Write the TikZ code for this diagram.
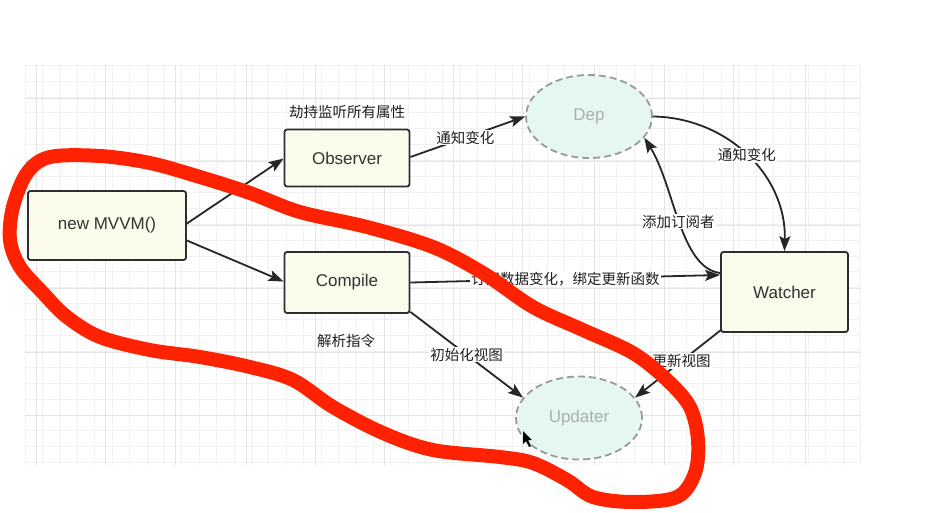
\documentclass[tikz,border=0pt]{standalone}
\usepackage{fontspec}
\setmainfont{Liberation Sans}
\newfontfamily\cjk{Noto Sans CJK SC}
\usetikzlibrary{arrows.meta,shapes.geometric}
\definecolor{boxfill}{HTML}{FBFBEB}
\definecolor{boxline}{HTML}{2E2E2E}
\definecolor{ellfill}{HTML}{E6F7F1}
\definecolor{ellline}{HTML}{9A9A9A}
\definecolor{elltext}{HTML}{A9B0AD}
\definecolor{gridmaj}{HTML}{E4E4E4}
\definecolor{gridmin}{HTML}{F1F1F1}
\definecolor{edgecol}{HTML}{262626}
\definecolor{scribble}{HTML}{FF2200}
\tikzset{
  boxnode/.style={draw=boxline, line width=1.8pt, fill=boxfill, rounded corners=2.5pt,
    text=black!80, font=\fontsize{17}{20}\selectfont, inner sep=0pt},
  ellnode/.style={ellipse, draw=ellline, dash pattern=on 7pt off 4pt, line width=1.8pt,
    fill=ellfill, text=elltext, font=\fontsize{17}{20}\selectfont, inner sep=0pt,
    minimum width=126pt, minimum height=83pt},
  edge/.style={draw=edgecol, line width=1.8pt, -{Stealth[length=15pt,width=11pt,inset=3pt]}},
  lbl/.style={font=\cjk\fontsize{14.5}{17}\selectfont, text=black!88, inner sep=1pt},
  elbl/.style={lbl, fill=white}
}
\begin{document}
\begin{tikzpicture}[x=1pt,y=-1pt]
\useasboundingbox (0,0) rectangle (942,512);
\fill[white] (0,0) rectangle (942,512);
% grid
\foreach \i in {0,...,48} {
  \draw[gridmin, line width=0.6pt] ({25+\i*17.4},65) -- ({25+\i*17.4},465);
}
\foreach \i in {0,...,25} {
  \draw[gridmin, line width=0.6pt] (25,{65+\i*15.9}) -- (860,{65+\i*15.9});
}
\foreach \x in {36,105,175,246,315,384,453,522,594,664,733,805} {
  \draw[gridmaj, line width=1pt] (\x,65) -- (\x,465);
}
\foreach \y in {98,161,225,288,352,415} {
  \draw[gridmaj, line width=1pt] (25,\y) -- (860,\y);
}
% nodes
\node[boxnode, minimum width=158pt, minimum height=69pt] (mvvm) at (107,225.5) {new MVVM()};
\node[boxnode, minimum width=125pt, minimum height=57pt] (obs) at (347,158) {Observer};
\node[boxnode, minimum width=125pt, minimum height=61pt] (comp) at (347,282.5) {Compile};
\node[boxnode, minimum width=127pt, minimum height=80pt] (watch) at (784.5,292) {Watcher};
\node[ellnode] (dep) at (589,116.5) {Dep};
\node[ellnode] (upd) at (579,418) {Updater};
% free labels
\node[lbl] (l1) at (347,112) {\cjk 劫持监听所有属性};
\node[lbl] (l2) at (346,341) {\cjk 解析指令};
% edges
\draw[edge] ([yshift=2pt]mvvm.east) -- ([yshift=-0.5pt]obs.west);
\draw[edge] ([yshift=-15pt]mvvm.east) -- ([yshift=1pt]comp.west);
\draw[edge] ([yshift=1pt]obs.east) -- node[elbl, pos=0.48] (e1) {通知变化} (dep.west);
\draw[edge] (comp.east) -- node[elbl, pos=0.5] (e2) {订阅数据变化，绑定更新函数} ([yshift=17pt]watch.west);
\draw[edge] (dep.east) .. controls +(73,1) and +(2,-77) .. node[elbl, pos=0.5] (e3) {通知变化} (watch.north);
\draw[edge] ([yshift=19pt]watch.west) .. controls +(-40,-5) and +(30,48) .. node[elbl, pos=0.5] (e4) {添加订阅者} (dep.-21);
\draw[edge] ([yshift=2pt]comp.south east) -- node[elbl, pos=0.5] (e5) {初始化视图} (upd.160);
\draw[edge] ([xshift=1pt,yshift=3pt]watch.south west) -- node[elbl, pos=0.46] (e6) {更新视图} (upd.20);
% red scribble
\draw[scribble, line width=14pt, line cap=round, line join=round]
  plot[smooth cycle, tension=0.55] coordinates {
  (100,156) (150,163) (200,177) (250,193) (300,212) (367,227) (433,247) (483,273)
  (533,307) (583,330) (633,353) (667,380) (690,407) (698,440) (695,473) (677,497)
  (633,502) (593,497) (567,480) (533,463) (500,457) (433,450) (383,433) (333,407)
  (293,380) (250,367) (200,357) (150,350) (100,337) (67,317) (43,293) (20,267)
  (10,240) (13,207) (27,173) (50,157)};
% cursor
\fill[black] (523,431) -- (523,444) -- (526,441) -- (529,447) -- (531,446) -- (528,440) -- (532,440) -- cycle;
\end{tikzpicture}
\end{document}
